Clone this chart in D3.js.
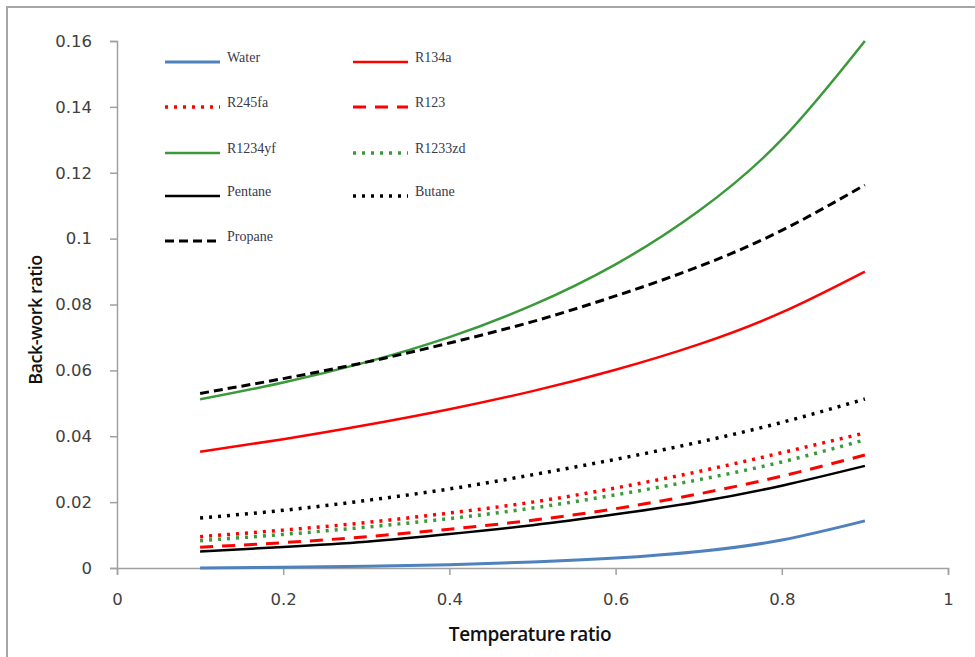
<!DOCTYPE html>
<html>
<head>
<meta charset="utf-8">
<script src="https://cdn.jsdelivr.net/npm/d3@7"></script>
<style>
  body { margin: 0; background: #fff; }
  svg { display: block; }
</style>
</head>
<body>
<svg></svg>
<script>
// temperature ratio (x) for every curve
const tempRatio = [0.1, 0.2, 0.3, 0.4, 0.5, 0.6, 0.7, 0.8, 0.9];

// back-work ratio
const water   = [0.0000, 0.0002, 0.0005, 0.0010, 0.0018, 0.0030, 0.0050, 0.0085, 0.0143];
const r134a   = [0.0353, 0.0391, 0.0434, 0.0482, 0.0537, 0.0602, 0.0679, 0.0776, 0.0900];
const r245fa  = [0.0095, 0.0115, 0.0138, 0.0167, 0.0200, 0.0243, 0.0293, 0.0350, 0.0410];
const r123    = [0.0063, 0.0077, 0.0095, 0.0118, 0.0145, 0.0180, 0.0225, 0.0279, 0.0343];
const r1234yf = [0.0512, 0.0563, 0.0625, 0.0701, 0.0798, 0.0922, 0.1084, 0.1301, 0.1600];
const r1233zd = [0.0083, 0.0102, 0.0124, 0.0150, 0.0182, 0.0222, 0.0268, 0.0322, 0.0389];
const pentane = [0.0050, 0.0064, 0.0080, 0.0103, 0.0130, 0.0163, 0.0201, 0.0250, 0.0310];
const butane  = [0.0152, 0.0175, 0.0205, 0.0240, 0.0283, 0.0330, 0.0382, 0.0442, 0.0513];
const propane = [0.0530, 0.0575, 0.0625, 0.0683, 0.0748, 0.0826, 0.0915, 0.1025, 0.1163];

const seriesNames = ["Water", "R134a", "R245fa", "R123", "R1234yf", "R1233zd", "Pentane", "Butane", "Propane"];
const seriesValues = [water, r134a, r245fa, r123, r1234yf, r1233zd, pentane, butane, propane];

const xTicks = [0, 0.2, 0.4, 0.6, 0.8, 1];
const yTicks = [0, 0.02, 0.04, 0.06, 0.08, 0.1, 0.12, 0.14, 0.16];

// line look per series
const styles = {
  "Water":   { color: "#4f81bd", dash: null,   width: 3 },
  "R134a":   { color: "#ff0000", dash: null,   width: 2.5 },
  "R245fa":  { color: "#ff0000", dash: "3,6",  width: 3.5 },
  "R123":    { color: "#ff0000", dash: "13,9", width: 3 },
  "R1234yf": { color: "#3a9a3a", dash: null,   width: 2.5 },
  "R1233zd": { color: "#3a9a3a", dash: "3,6",  width: 3.5 },
  "Pentane": { color: "#000000", dash: null,   width: 2.5 },
  "Butane":  { color: "#000000", dash: "3,6",  width: 3.5 },
  "Propane": { color: "#000000", dash: "9,5",  width: 3 }
};

const width = 975;
const height = 657;
const plotLeft = 117, plotRight = 948, plotTop = 41, plotBottom = 568;

const svg = d3.select("svg")
  .attr("width", width)
  .attr("height", height);

// outer frame (top and left edges visible only)
svg.append("rect")
  .attr("x", 7).attr("y", 7)
  .attr("width", 1000).attr("height", 700)
  .attr("fill", "none")
  .attr("stroke", "#a6a6a6")
  .attr("stroke-width", 2);

const xScale = d3.scaleLinear().domain([0, 1]).range([plotLeft, plotRight]);
const yScale = d3.scaleLinear().domain([0, 0.16]).range([plotBottom, plotTop]);

const xAxis = d3.axisBottom(xScale)
  .tickValues(xTicks)
  .tickSize(7)
  .tickPadding(18)
  .tickFormat(d => d3.format("")(d));

const yAxis = d3.axisLeft(yScale)
  .tickValues(yTicks)
  .tickSize(7)
  .tickPadding(18)
  .tickFormat(d => d3.format("")(d));

const gx = svg.append("g")
  .attr("transform", `translate(0, ${plotBottom})`)
  .call(xAxis);

const gy = svg.append("g")
  .attr("transform", `translate(${plotLeft}, 0)`)
  .call(yAxis);

[gx, gy].forEach(g => {
  g.select(".domain").attr("stroke", "#a0a0a0").attr("stroke-width", 1.5);
  g.selectAll(".tick line").attr("stroke", "#a0a0a0").attr("stroke-width", 1.5);
  g.selectAll(".tick text")
    .attr("fill", "#404040")
    .style("font-family", "'DejaVu Sans', sans-serif")
    .style("font-size", "16.5px");
});

// axis titles
svg.append("text")
  .attr("x", 530)
  .attr("y", 641)
  .attr("text-anchor", "middle")
  .style("font-family", "'Open Sans', sans-serif")
  .style("font-size", "19px")
  .style("font-weight", "600")
  .style("letter-spacing", "-0.4px")
  .attr("fill", "#111")
  .text("Temperature ratio");

svg.append("text")
  .attr("transform", "translate(42, 320) rotate(-90)")
  .attr("text-anchor", "middle")
  .style("font-family", "'Open Sans', sans-serif")
  .style("font-size", "18px")
  .style("font-weight", "600")
  .style("letter-spacing", "-0.5px")
  .attr("fill", "#111")
  .text("Back-work ratio");

// curves
const line = d3.line()
  .x(d => xScale(d[0]))
  .y(d => yScale(d[1]))
  .curve(d3.curveNatural);

seriesNames.forEach((name, i) => {
  const st = styles[name];
  svg.append("path")
    .datum(tempRatio.map((t, j) => [t, seriesValues[i][j]]))
    .attr("d", line)
    .attr("fill", "none")
    .attr("stroke", st.color)
    .attr("stroke-width", st.width)
    .attr("stroke-dasharray", st.dash);
});

// legend, two columns
const legendCols = [165, 353];
const legendRows = [62, 107, 153, 196, 241];

seriesNames.forEach((name, i) => {
  const st = styles[name];
  const lx = legendCols[i % 2];
  const ly = legendRows[Math.floor(i / 2)];
  svg.append("line")
    .attr("x1", lx).attr("x2", lx + 55)
    .attr("y1", ly).attr("y2", ly)
    .attr("stroke", st.color)
    .attr("stroke-width", st.width)
    .attr("stroke-dasharray", st.dash);
  svg.append("text")
    .attr("x", lx + 62)
    .attr("y", ly)
    .style("font-family", "'Liberation Serif', serif")
    .style("font-size", "14px")
    .attr("fill", "#3a3a4a")
    .text(name);
});
</script>
</body>
</html>
